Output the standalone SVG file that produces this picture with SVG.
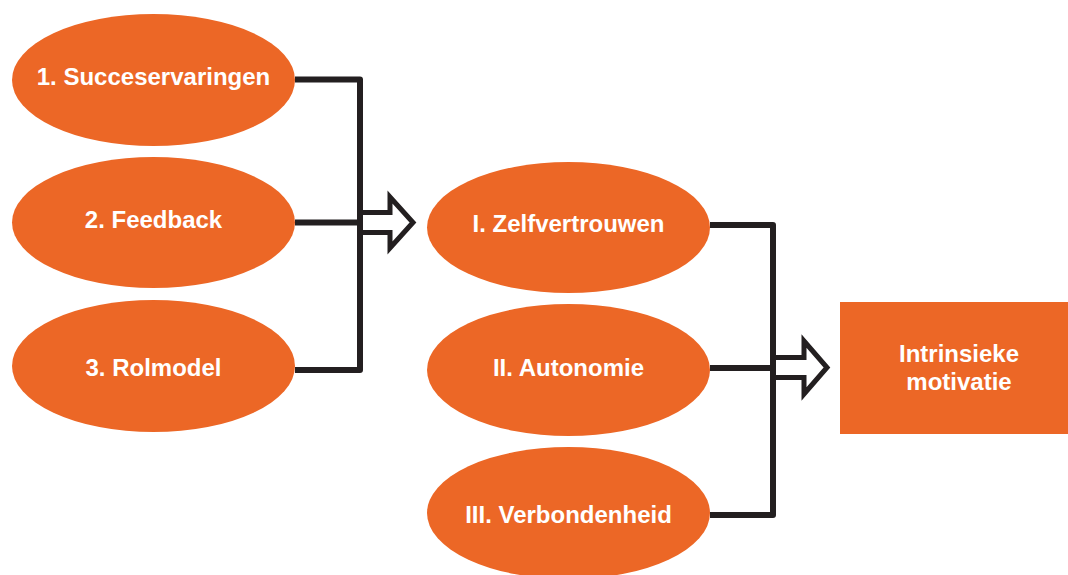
<svg xmlns="http://www.w3.org/2000/svg" width="1068" height="575" viewBox="0 0 1068 575">
<style>
.node{fill:#EC6726;}
.lbl{font-family:"Liberation Sans",Arial,sans-serif;font-weight:bold;font-size:24px;fill:#FFFFFF;text-anchor:middle;}
.ln{fill:none;stroke:#231F20;stroke-width:6;stroke-linejoin:round;}
.arr{fill:#FFFFFF;stroke:#231F20;stroke-width:5;stroke-linejoin:miter;}
</style>
<rect width="1068" height="575" fill="#FFFFFF"/>
<g id="n1"><ellipse class="node" cx="153.5" cy="80" rx="141.5" ry="66"/><text class="lbl" x="153.5" y="85">1. Succeservaringen</text></g>
<g id="n2"><ellipse class="node" cx="153.5" cy="222.5" rx="141.5" ry="65.5"/><text class="lbl" x="153.5" y="228">2. Feedback</text></g>
<g id="n3"><ellipse class="node" cx="153.5" cy="366" rx="141.5" ry="66"/><text class="lbl" x="153.5" y="376">3. Rolmodel</text></g>
<g id="nI"><ellipse class="node" cx="568.5" cy="227.5" rx="141.5" ry="65.5"/><text class="lbl" x="568.5" y="232">I. Zelfvertrouwen</text></g>
<g id="nII"><ellipse class="node" cx="568.5" cy="370" rx="141.5" ry="66"/><text class="lbl" x="568.5" y="376">II. Autonomie</text></g>
<g id="nIII"><ellipse class="node" cx="568.5" cy="513" rx="141.5" ry="66"/><text class="lbl" x="568.5" y="523">III. Verbondenheid</text></g>
<g id="nM"><rect class="node" x="840" y="302" width="228" height="132"/><text class="lbl" x="959" y="362">Intrinsieke</text><text class="lbl" x="959" y="390">motivatie</text></g>
<g id="connectors">
<path class="arr" d="M360,212.5 H390 V197 L413,222.5 L390,248 V232.5 H360"/>
<path class="ln" d="M295,79.5 H360 V370 H295"/>
<path class="ln" d="M295,222.5 H360"/>
<path class="arr" d="M773,357.5 H804 V341 L827,367.5 L804,394 V377.5 H773"/>
<path class="ln" d="M710,225 H773 V515 H710"/>
<path class="ln" d="M710,368 H773"/>
</g>
</svg>
